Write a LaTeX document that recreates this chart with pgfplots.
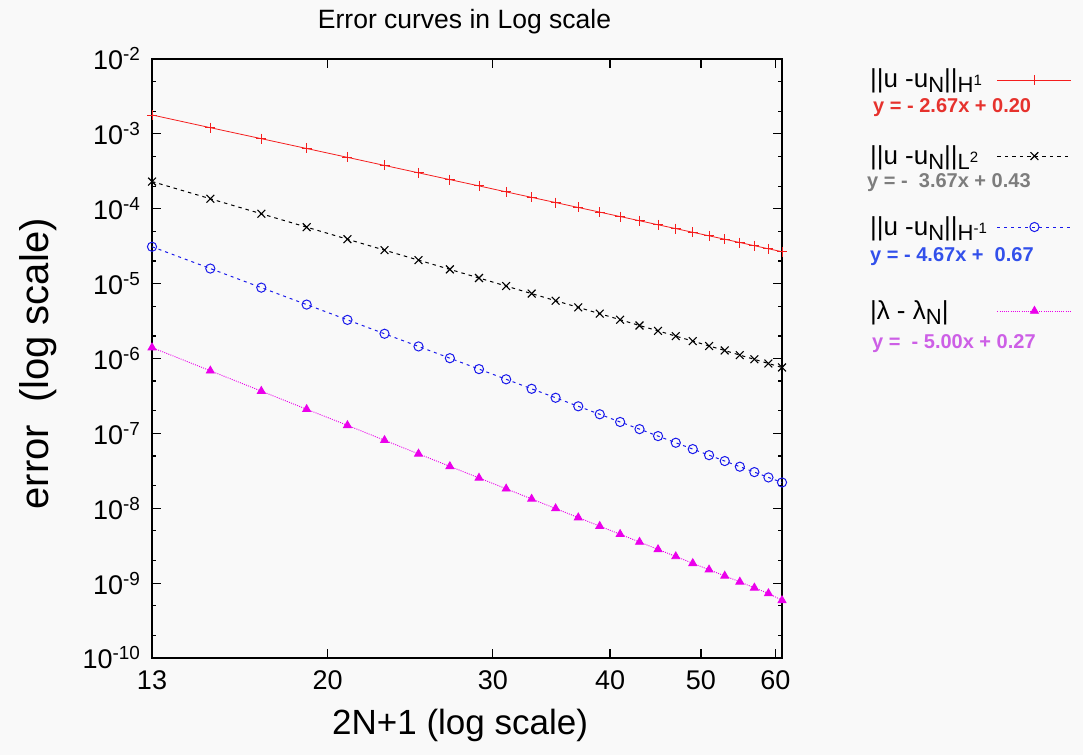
\documentclass[border=0pt]{standalone}
\usepackage{pgfplots}
\usepackage{pgfplotstable}
\pgfplotsset{compat=1.18}
\usepackage{fontspec}
\setmainfont{Liberation Sans}
\definecolor{bg}{RGB}{249,249,249}
\definecolor{cred}{RGB}{245,30,30}
\definecolor{cblue}{RGB}{25,25,235}
\definecolor{cmag}{RGB}{235,0,235}
\definecolor{eqred}{RGB}{230,50,45}
\definecolor{eqgray}{RGB}{125,125,125}
\definecolor{eqblue}{RGB}{50,80,235}
\definecolor{eqviolet}{RGB}{205,95,230}
\newcommand{\lsub}[1]{\raisebox{-5pt}{\fontsize{22}{22}\selectfont #1}}
\newcommand{\lsup}[1]{\raisebox{7pt}{\fontsize{15}{15}\selectfont #1}}

\pgfplotstableread{
x  h1      l2      hm1     lam
13 1.79e-3 2.31e-4 3.11e-5 1.40e-6
15 1.21e-3 1.36e-4 1.59e-5 6.86e-7
17 8.63e-4 8.57e-5 8.84e-6 3.67e-7
19 6.38e-4 5.68e-5 5.25e-6 2.10e-7
21 4.86e-4 3.92e-5 3.28e-6 1.28e-7
23 3.79e-4 2.80e-5 2.14e-6 8.09e-8
25 3.02e-4 2.06e-5 1.45e-6 5.33e-8
27 2.45e-4 1.55e-5 1.01e-6 3.63e-8
29 2.02e-4 1.19e-5 7.22e-7 2.54e-8
31 1.68e-4 9.28e-6 5.28e-7 1.82e-8
33 1.42e-4 7.36e-6 3.94e-7 1.33e-8
35 1.21e-4 5.92e-6 2.99e-7 9.92e-9
37 1.04e-4 4.82e-6 2.30e-7 7.51e-9
39 9.02e-5 3.97e-6 1.80e-7 5.77e-9
41 7.87e-5 3.30e-6 1.42e-7 4.50e-9
43 6.92e-5 2.76e-6 1.14e-7 3.54e-9
45 6.11e-5 2.34e-6 9.20e-8 2.82e-9
47 5.43e-5 1.99e-6 7.50e-8 2.27e-9
49 4.85e-5 1.71e-6 6.17e-8 1.84e-9
51 4.35e-5 1.47e-6 5.12e-8 1.51e-9
53 3.92e-5 1.28e-6 4.27e-8 1.25e-9
55 3.54e-5 1.11e-6 3.59e-8 1.04e-9
57 3.21e-5 9.75e-7 3.04e-8 8.66e-10
59 2.92e-5 8.58e-7 2.58e-8 7.29e-10
61 2.67e-5 7.59e-7 2.21e-8 5.89e-10
}\errdata

\begin{document}
\begin{tikzpicture}
\path[use as bounding box, fill=bg] (0,0) rectangle (1083pt,755pt);
\begin{axis}[
  at={(152pt,97pt)}, anchor=south west,
  width=630pt, height=599pt, scale only axis,
  xmode=log, ymode=log,
  xmin=13, xmax=61, ymin=1e-10, ymax=1e-2,
  clip=false,
  axis line style={line width=1.6pt},
  every tick/.style={black, line width=1.2pt},
  major tick length=9pt, minor tick length=4.5pt,
  tick align=inside,
  xtick={13,20,30,40,50,60},
  xticklabels={13,20,30,40,50,60},
  xminorticks=false,
  ytick={1e-10,1e-9,1e-8,1e-7,1e-6,1e-5,1e-4,1e-3,1e-2},
  yticklabels={10\textsuperscript{-10},10\textsuperscript{-9},10\textsuperscript{-8},10\textsuperscript{-7},10\textsuperscript{-6},10\textsuperscript{-5},10\textsuperscript{-4},10\textsuperscript{-3},10\textsuperscript{-2}},
  minor ytick={2e-10,5e-10,2e-9,5e-9,2e-8,5e-8,2e-7,5e-7,2e-6,5e-6,2e-5,5e-5,2e-4,5e-4,2e-3,5e-3},
  tick label style={font=\fontsize{27}{31}\selectfont},
  xticklabel style={yshift=-9pt},
  yticklabel style={xshift=-8pt},
  title={Error curves in Log scale},
  every axis title/.style={at={(axis description cs:0.496,1.062)}, anchor=center, font=\fontsize{26.5}{30}\selectfont},
  xlabel={2N+1 (log scale)},
  every axis x label/.style={at={(axis description cs:0.489,-0.112)}, anchor=center, font=\fontsize{35}{40}\selectfont},
  ylabel={error\ \ (log scale)},
  every axis y label/.style={at={(axis description cs:-0.181,0.491)}, rotate=90, anchor=center, font=\fontsize{40}{44}\selectfont},
  legend plot pos=right,
  legend image code/.code={\draw[mark repeat=2,mark phase=2,#1] plot coordinates {(0pt,7pt) (37pt,7pt) (74pt,7pt)};},
  legend style={draw=none, fill=none, at={(axis description cs:1.1397,0.9866)}, anchor=north west,
    inner sep=0pt, outer sep=0pt, row sep=51pt, column sep=10pt,
    font=\fontsize{26}{30}\selectfont,
    nodes={inner sep=0pt, text height=20pt, text depth=6pt},
    cells={anchor=base west}},
]
\addplot[cred, line width=0.8pt, mark=+, mark size=5pt, mark options={solid, line width=0.8pt}]
  table[x=x, y=h1] {\errdata};
\addlegendentry{||u -u\lsub{N}||\lsub{H\lsup{1}}}
\addplot[black, line width=1pt, dash pattern=on 3.5pt off 4pt, mark=x, mark size=5.5pt, mark options={solid, line width=1.1pt},
  legend image post style={yshift=1pt}]
  table[x=x, y=l2] {\errdata};
\addlegendentry{||u -u\lsub{N}||\lsub{L\lsup{2}}}
\addplot[cblue, line width=1pt, dash pattern=on 3pt off 4pt, mark=o, mark size=4.6pt, mark options={solid, line width=1pt},
  legend image post style={yshift=7pt}]
  table[x=x, y=hm1] {\errdata};
\addlegendentry{\raisebox{6pt}{||u -u\lsub{N}||\lsub{H\lsup{-1}}}}
\addplot[cmag, line width=0.9pt, dash pattern=on 1pt off 1.2pt, mark=triangle*, mark size=4.5pt, mark options={solid}]
  table[x=x, y=lam] {\errdata};
\addlegendentry{\raisebox{-1pt}{|λ - λ\lsub{N}|}}
\end{axis}
\begin{scope}[every node/.style={anchor=west, inner sep=0pt, font=\bfseries\fontsize{20}{24}\selectfont}]
\node[text=eqred] at (873pt,647pt) {y = - 2.67x + 0.20};
\node[text=eqgray] at (867pt,572pt) {y = -\ \ 3.67x + 0.43};
\node[text=eqblue] at (870pt,498pt) {y = - 4.67x +\ \ 0.67};
\node[text=eqviolet] at (872pt,411.5pt) {y =\ \ - 5.00x + 0.27};
\end{scope}
\end{tikzpicture}
\end{document}
